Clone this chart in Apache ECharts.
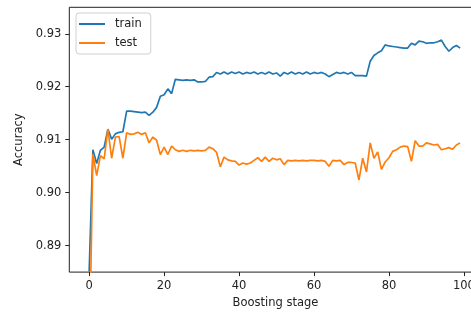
<!DOCTYPE html>
<html>
<head>
<meta charset="utf-8">
<script src="https://cdn.jsdelivr.net/npm/echarts@6/dist/echarts.min.js"></script>
<style>
html,body{margin:0;padding:0;background:#fff;overflow:hidden;width:471px;height:314px;}
#chart{width:495px;height:314px;}
</style>
</head>
<body>
<div id="chart"></div>
<script>
var seriesNames = ['train', 'test'];
var trainAcc = [
0.8851,0.9081,0.9055,0.9080,0.9086,0.9120,0.9101,0.9111,0.9114,0.9115,
0.9154,0.9154,0.9153,0.9152,0.9151,0.9152,0.9146,0.9152,0.9161,0.9182,
0.9185,0.9196,0.9187,0.9214,0.9213,0.9212,0.9213,0.9212,0.9213,0.9209,
0.9209,0.9210,0.9218,0.9219,0.9227,0.9224,0.9228,0.9224,0.9228,0.9225,
0.9228,0.9224,0.9227,0.9225,0.9228,0.9224,0.9227,0.9224,0.9228,0.9224,
0.9226,0.9220,0.9227,0.9224,0.9228,0.9224,0.9227,0.9224,0.9228,0.9224,
0.9227,0.9225,0.9227,0.9224,0.9219,0.9223,0.9227,0.9225,0.9227,0.9224,
0.9227,0.9221,0.9221,0.9221,0.9220,0.9248,0.9259,0.9264,0.9268,0.9279,
0.9277,0.9276,0.9275,0.9274,0.9273,0.9273,0.9282,0.9279,0.9286,0.9285,
0.9282,0.9283,0.9283,0.9285,0.9288,0.9276,0.9267,0.9274,0.9278,0.9273
];
var testAcc = [
0.8667,0.9073,0.9032,0.9070,0.9064,0.9120,0.9065,0.9105,0.9106,0.9065,
0.9113,0.9110,0.9111,0.9114,0.9110,0.9113,0.9094,0.9105,0.9099,0.9072,
0.9086,0.9072,0.9088,0.9081,0.9078,0.9080,0.9078,0.9080,0.9079,0.9080,
0.9079,0.9080,0.9086,0.9083,0.9076,0.9049,0.9067,0.9062,0.9060,0.9059,
0.9052,0.9056,0.9054,0.9056,0.9061,0.9066,0.9059,0.9067,0.9059,0.9065,
0.9062,0.9064,0.9053,0.9061,0.9060,0.9061,0.9060,0.9061,0.9060,0.9061,
0.9061,0.9060,0.9061,0.9059,0.9050,0.9061,0.9060,0.9061,0.9053,0.9057,
0.9057,0.9056,0.9024,0.9065,0.9039,0.9094,0.9065,0.9077,0.9044,0.9058,
0.9066,0.9078,0.9081,0.9086,0.9088,0.9087,0.9059,0.9098,0.9088,0.9088,
0.9094,0.9092,0.9090,0.9091,0.9081,0.9083,0.9085,0.9082,0.9090,0.9094
];
var xTicks = [0, 20, 40, 60, 80, 100];
var yTicks = [0.89, 0.90, 0.91, 0.92, 0.93];

function pairs(vals) {
  var out = [];
  for (var i = 0; i < vals.length; i++) out.push([i, vals[i]]);
  return out;
}

var chart = echarts.init(document.getElementById('chart'), null, {renderer: 'canvas'});
var font = 'DejaVu Sans';
chart.setOption({
  animation: false,
  backgroundColor: '#fff',
  color: ['#1f77b4', '#ff7f0e'],
  grid: {
    left: 69.3, top: 7.3, width: 412.2, height: 267.2,
    show: true, borderColor: '#222', borderWidth: 1, backgroundColor: 'transparent'
  },
  legend: {
    data: seriesNames,
    orient: 'vertical',
    left: 76, top: 13,
    icon: 'rect',
    itemWidth: 26, itemHeight: 2,
    itemGap: 5,
    padding: [4, 9, 4, 3],
    backgroundColor: 'rgba(255,255,255,0.8)',
    borderColor: '#d0d0d0', borderWidth: 1, borderRadius: 3,
    textStyle: {fontFamily: font, fontSize: 11.5, color: '#222', lineHeight: 14, padding: [0, 0, 0, 5]}
  },
  xAxis: {
    type: 'value', min: -5.3, max: 104.7,
    name: 'Boosting stage', nameLocation: 'middle', nameGap: 24,
    nameTextStyle: {fontFamily: font, fontSize: 11.5, color: '#222'},
    axisLine: {show: false, onZero: false},
    splitLine: {show: false},
    axisTick: {show: true, length: 4, lineStyle: {color: '#222', width: 1}, customValues: xTicks},
    axisLabel: {fontFamily: font, fontSize: 11.5, color: '#222', margin: 8, customValues: xTicks,
      showMinLabel: true, showMaxLabel: true}
  },
  yAxis: {
    type: 'value', min: 0.885, max: 0.935,
    name: 'Accuracy', nameLocation: 'middle', nameGap: 37,
    nameTextStyle: {fontFamily: font, fontSize: 11.5, color: '#222'},
    axisLine: {show: false, onZero: false},
    splitLine: {show: false},
    axisTick: {show: true, length: 4, lineStyle: {color: '#222', width: 1}, customValues: yTicks},
    axisLabel: {fontFamily: font, fontSize: 11.5, color: '#222', margin: 8, customValues: yTicks,
      formatter: function (v) { return v.toFixed(2); }}
  },
  series: [
    {name: seriesNames[0], type: 'line', data: pairs(trainAcc), showSymbol: false, symbol: 'none',
      clip: true, lineStyle: {width: 1.7, color: '#1f77b4'}, z: 2},
    {name: seriesNames[1], type: 'line', data: pairs(testAcc), showSymbol: false, symbol: 'none',
      clip: true, lineStyle: {width: 1.7, color: '#ff7f0e'}, z: 3}
  ]
});
</script>
</body>
</html>
